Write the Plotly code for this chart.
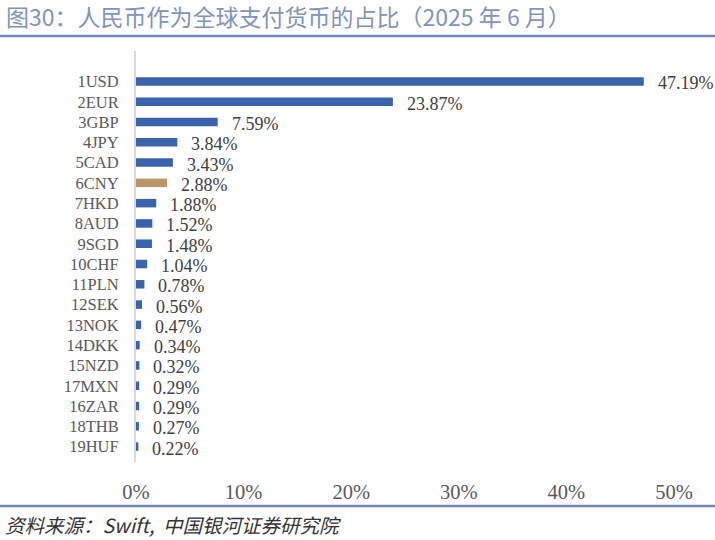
import plotly.graph_objects as go

categories = ["1USD", "2EUR", "3GBP", "4JPY", "5CAD", "6CNY", "7HKD", "8AUD", "9SGD",
              "10CHF", "11PLN", "12SEK", "13NOK", "14DKK", "15NZD", "17MXN", "16ZAR",
              "18THB", "19HUF"]
shares = [47.19, 23.87, 7.59, 3.84, 3.43, 2.88, 1.88, 1.52, 1.48,
          1.04, 0.78, 0.56, 0.47, 0.34, 0.32, 0.29, 0.29, 0.27, 0.22]
x_ticks = [0, 10, 20, 30, 40, 50]
x_tick_labels = ["0%", "10%", "20%", "30%", "40%", "50%"]

BLUE = "#3b62ad"
TAN = "#b8966a"
colors = [TAN if c.endswith("CNY") else BLUE for c in categories]

SERIF = "Liberation Serif, DejaVu Serif, serif"
CJK = "Noto Sans CJK SC, sans-serif"

fig = go.Figure()
fig.add_trace(go.Bar(
    x=shares, y=categories, orientation="h",
    marker=dict(color=colors, line=dict(width=0)),
    width=0.42, hoverinfo="skip",
))

for c, v in zip(categories, shares):
    fig.add_annotation(x=v, y=c, xref="x", yref="y", text=f"{v:.2f}%",
                       showarrow=False, xanchor="left", xshift=12, yshift=-2,
                       font=dict(family=SERIF, size=18, color="#404040"))

fig.update_layout(
    width=715, height=540,
    margin=dict(l=136, r=41, t=51, b=78),
    paper_bgcolor="white", plot_bgcolor="white",
    showlegend=False,
    xaxis=dict(range=[0, 50], tickvals=x_ticks, ticktext=x_tick_labels,
               showgrid=False, zeroline=False, showline=False,
               ticks="outside", ticklen=11, tickcolor="rgba(0,0,0,0)",
               tickfont=dict(family=SERIF, size=20.5, color="#595959")),
    yaxis=dict(type="category", categoryorder="array", categoryarray=categories,
               range=[18.76, -1.5], showgrid=False, zeroline=False,
               showline=True, linecolor="#d9d9d9", linewidth=2,
               ticks="", ticklabelstandoff=12,
               tickfont=dict(family=SERIF, size=16.5, color="#595959")),
    shapes=[
        dict(type="line", xref="paper", yref="paper", x0=-136/538, x1=(715-136)/538,
             y0=1 + (51-36)/411, y1=1 + (51-36)/411,
             line=dict(color="#7189b8", width=2.5)),
        dict(type="line", xref="paper", yref="paper", x0=-136/538, x1=(715-136)/538,
             y0=-(506-462)/411, y1=-(506-462)/411,
             line=dict(color="#7189b8", width=2.5)),
    ],
    annotations=list(fig.layout.annotations) + [
        dict(text="图30：人民币作为全球支付货币的占比（2025 年 6 月）", xref="paper", yref="paper",
             x=-136/538 + 4/538, y=1 + (51-16)/411, xanchor="left", yanchor="middle",
             showarrow=False, font=dict(family=CJK, size=23, color="#8094be")),
        dict(text="资料来源：Swift,  中国银河证券研究院", xref="paper", yref="paper",
             x=-136/538 + 4/538, y=-(524-462)/411, xanchor="left", yanchor="middle",
             showarrow=False, borderpad=0,
             font=dict(family=CJK, size=19.5, color="#333333", style="italic")),
    ],
)

fig.write_html("out.html", config={"displayModeBar": False},
               post_script="document.body.style.margin='0';document.body.style.overflow='hidden';")
